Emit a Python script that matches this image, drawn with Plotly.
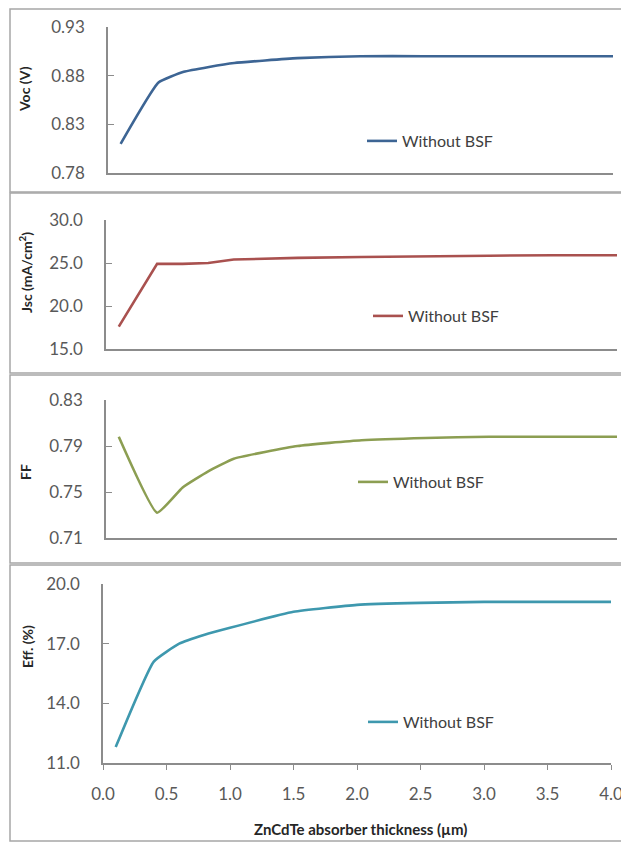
import plotly.graph_objects as go

# ---------------- data ----------------
thickness = [0.1, 0.4, 0.6, 0.8, 1.0, 1.5, 2.0, 2.5, 3.0, 3.5, 4.0]
voc = [0.810, 0.873, 0.884, 0.889, 0.893, 0.898, 0.900, 0.900, 0.900, 0.900, 0.900]
jsc = [17.6, 24.9, 24.9, 25.0, 25.4, 25.6, 25.7, 25.8, 25.85, 25.9, 25.9]
ff = [0.798, 0.732, 0.754, 0.768, 0.779, 0.790, 0.795, 0.797, 0.798, 0.798, 0.798]
eff = [11.8, 16.1, 17.0, 17.45, 17.8, 18.6, 18.95, 19.05, 19.1, 19.1, 19.1]

series_name = "Without BSF"
y_titles = ["Voc (V)", "Jsc (mA/cm<sup>2</sup>)", "FF", "Eff. (%)"]
x_title = "ZnCdTe absorber thickness (µm)"
voc_ticks = [0.78, 0.83, 0.88, 0.93]
jsc_ticks = [15.0, 20.0, 25.0, 30.0]
ff_ticks = [0.71, 0.75, 0.79, 0.83]
eff_ticks = [11.0, 14.0, 17.0, 20.0]
x_ticks = [0.0, 0.5, 1.0, 1.5, 2.0, 2.5, 3.0, 3.5, 4.0]

# ---------------- layout geometry (window pixels) ----------------
OFF = 8                      # default page body margin
W, H = 629 - OFF, 844 - OFF  # figure size so it fits the window
def px(x):
    return (x - OFF) / W
def py(y):
    return 1 - (y - OFF) / H

panels = [
    dict(y=voc, ticks=voc_ticks, fmt=".2f", color="#3D6594", xl=108, xr=613, yt=27, yb=173,
         leg=(362, 141), title=(25, 89), smooth=0.4),
    dict(y=jsc, ticks=jsc_ticks, fmt=".1f", color="#A9514F", xl=106, xr=617, yt=220, yb=349,
         leg=(368, 316), title=(25, 273), smooth=0),
    dict(y=ff, ticks=ff_ticks, fmt=".2f", color="#8C9E52", xl=106, xr=617, yt=400, yb=538,
         leg=(353, 482), title=(25, 472), smooth=0.4),
    dict(y=eff, ticks=eff_ticks, fmt=".1f", color="#3E98AE", xl=103, xr=611, yt=584, yb=763,
         leg=(363, 722), title=(27, 647), smooth=0.4),
]

fig = go.Figure()
layout = dict(
    width=W, height=H,
    margin=dict(l=0, r=0, t=0, b=0, autoexpand=False),
    paper_bgcolor="white", plot_bgcolor="white",
    font=dict(family="Lato, 'Open Sans', sans-serif", color="#595959"),
    shapes=[], annotations=[],
)

tick_font = dict(size=17, color="#595959", family="Lato, sans-serif")

for i, p in enumerate(panels):
    n = i + 1
    xa = "x" if n == 1 else f"x{n}"
    ya = "y" if n == 1 else f"y{n}"
    leg = "legend" if n == 1 else f"legend{n}"
    line = dict(color=p["color"], width=2.6)
    if p["smooth"] > 0:
        line.update(shape="spline", smoothing=p["smooth"])
    fig.add_trace(go.Scatter(
        x=thickness, y=p["y"], mode="lines", name=series_name, line=line,
        xaxis=xa, yaxis=ya, legend=leg, showlegend=True,
    ))
    xkey = "xaxis" if n == 1 else f"xaxis{n}"
    ykey = "yaxis" if n == 1 else f"yaxis{n}"
    last = (n == 4)
    xdef = dict(
        domain=[px(p["xl"]), px(p["xr"])], range=[0, 4], anchor=ya, automargin=False,
        showgrid=False, zeroline=False, showline=True, linecolor="#8C8C8C", linewidth=1.5,
        fixedrange=True,
    )
    if last:
        xdef.update(tickvals=x_ticks, ticktext=[f"{v:.1f}" for v in x_ticks],
                    ticks="outside", ticklen=5, tickcolor="#8C8C8C",
                    showticklabels=True, tickfont=tick_font, ticklabelstandoff=10)
    else:
        xdef.update(showticklabels=False, ticks="")
    layout[xkey] = xdef
    layout[ykey] = dict(
        domain=[py(p["yb"]), py(p["yt"])], range=[p["ticks"][0], p["ticks"][-1]], anchor=xa,
        automargin=False,
        showgrid=False, zeroline=False, showline=True, linecolor="#8C8C8C", linewidth=1.5,
        tickvals=p["ticks"], ticktext=[format(v, p["fmt"]) for v in p["ticks"]],
        ticks="inside", ticklen=6, tickcolor="#8C8C8C",
        tickfont=tick_font, ticklabelstandoff=18, fixedrange=True,
    )
    layout[leg] = dict(
        x=px(p["leg"][0]), y=py(p["leg"][1]), xanchor="left", yanchor="middle",
        bgcolor="rgba(0,0,0,0)", borderwidth=0,
        font=dict(size=16, color="#404040", family="Lato, sans-serif"),
    )
    layout["annotations"].append(dict(
        text=f"<b>{y_titles[i]}</b>", textangle=-90, showarrow=False,
        xref="paper", yref="paper", x=px(p["title"][0]), y=py(p["title"][1]),
        xanchor="center", yanchor="middle",
        font=dict(size=14, color="#262626", family="Lato, sans-serif"),
    ))

# x-axis title
layout["annotations"].append(dict(
    text=f"<b>{x_title}</b>", showarrow=False, xref="paper", yref="paper",
    x=px(360), y=py(829), xanchor="center", yanchor="middle",
    font=dict(size=15, color="#262626", family="Lato, sans-serif"),
))

# panel borders
borders = [(9, 192), (193, 373), (375, 563), (565, 841)]
for top, bot in borders:
    layout["shapes"].append(dict(
        type="rect", xref="paper", yref="paper",
        x0=px(10), x1=px(626), y0=py(bot), y1=py(top),
        line=dict(color="#A6A6A6", width=1.5), fillcolor="rgba(0,0,0,0)", layer="below",
    ))

fig.update_layout(**layout)
fig.write_html("out.html")
